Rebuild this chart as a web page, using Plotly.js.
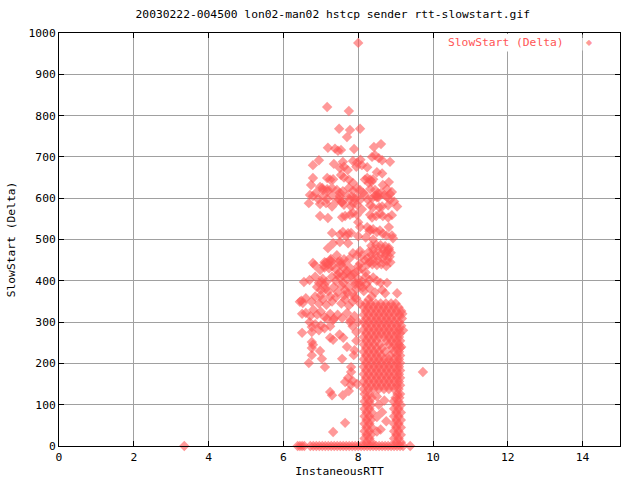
<!DOCTYPE html>
<html>
<head>
<meta charset="utf-8">
<script src="https://cdn.plot.ly/plotly-3.0.1.min.js"></script>
<style>html,body{margin:0;padding:0;background:#fff}#chart{width:640px;height:480px}</style>
</head>
<body>
<div id="chart"></div>
<script>
// ---- data (InstaneousRTT, SlowStart (Delta)) ----
const chartTitle = "20030222-004500 lon02-man02 hstcp sender rtt-slowstart.gif";
const xTitle = "InstaneousRTT";
const yTitle = "SlowStart (Delta)";
const seriesName = "SlowStart (Delta)";

// points lying on delta = 0
const floorRtt = [3.35, 6.38, 6.44, 6.5, 6.56, 6.72, 6.8, 6.88, 6.96, 7.04, 7.12, 7.2, 7.28, 7.36, 7.44,
  7.52, 7.6, 7.68, 7.76, 7.84, 7.92, 8.0, 8.08, 8.16, 8.24, 8.32, 8.4, 8.48, 8.56, 8.64, 8.72, 8.8,
  8.88, 8.96, 9.04, 9.12, 9.2, 9.39];

// dense block (rows of delta with rtt values)
const blockDelta = [345, 336, 327, 318, 309, 300, 291, 282, 273, 264, 255, 246, 237, 228, 219, 210,
  201, 192, 183, 174, 165, 156, 147, 138];
const blockRtt = [
  [8.2, 8.33, 8.47, 8.6, 8.74, 8.88, 9.0],
  [8.15, 8.27, 8.41, 8.54, 8.68, 8.81, 8.95, 9.08],
  [8.2, 8.34, 8.48, 8.62, 8.75, 8.89, 9.02, 9.15],
  [8.15, 8.28, 8.42, 8.55, 8.69, 8.82, 8.96, 9.1],
  [8.21, 8.35, 8.49, 8.62, 8.76, 8.89, 9.03, 9.17],
  [8.15, 8.28, 8.42, 8.55, 8.69, 8.82, 8.96, 9.1],
  [8.21, 8.35, 8.49, 8.62, 8.76, 8.89, 9.03, 9.15],
  [8.15, 8.28, 8.42, 8.55, 8.69, 8.82, 8.96, 9.09],
  [8.21, 8.35, 8.49, 8.62, 8.76, 8.89, 9.03, 9.12],
  [8.15, 8.28, 8.42, 8.55, 8.69, 8.82, 8.96, 9.09],
  [8.21, 8.35, 8.49, 8.76, 8.89, 9.03, 9.12],
  [8.15, 8.28, 8.42, 8.58, 8.82, 8.96, 9.09],
  [8.21, 8.35, 8.49, 8.64, 8.9, 9.03, 9.12],
  [8.15, 8.28, 8.42, 8.55, 8.72, 8.96, 9.09],
  [8.21, 8.35, 8.49, 8.62, 8.85, 9.03, 9.12],
  [8.15, 8.28, 8.42, 8.55, 8.69, 8.82, 8.96, 9.09],
  [8.21, 8.35, 8.49, 8.62, 8.76, 8.89, 9.03, 9.12],
  [8.15, 8.28, 8.42, 8.55, 8.69, 8.82, 8.96, 9.09],
  [8.21, 8.35, 8.49, 8.62, 8.76, 8.89, 9.03, 9.12],
  [8.15, 8.28, 8.42, 8.55, 8.69, 8.82, 8.96, 9.09],
  [8.21, 8.35, 8.49, 8.62, 8.76, 8.89, 9.03, 9.12],
  [8.15, 8.28, 8.42, 8.55, 8.69, 8.82, 8.96, 9.09],
  [8.21, 8.35, 8.49, 8.62, 8.76, 8.89, 9.03, 9.12],
  [8.15, 8.28, 8.42, 8.55, 8.69, 8.82, 8.96, 9.08]
];

// two columns beneath the block
const columnDelta = [126, 117, 108, 99, 90, 81, 72, 63, 54, 45, 36, 27, 18, 9];
const leftColumnRtt = [
  [8.17, 8.3], [8.22, 8.36], [8.17, 8.3], [8.22, 8.34], [8.17, 8.3], [8.22, 8.36], [8.17, 8.3],
  [8.22, 8.34], [8.17, 8.3], [8.22, 8.36], [8.17, 8.3], [8.22, 8.34], [8.17, 8.3], [8.22, 8.36]
];
const rightColumnRtt = [
  [9.05, 9.12], [9.0, 9.1], [8.95, 9.08], [9.02, 9.14], [8.96, 9.08], [9.02, 9.14], [8.96, 9.08],
  [9.02, 9.14], [8.96, 9.08], [9.02, 9.14], [8.96, 9.08], [9.02, 9.14], [8.96, 9.08], [9.02, 9.14]
];

// dense blob near delta 430-490
const blobRtt = [8.35, 8.48, 8.6, 8.72, 8.82, 8.4, 8.53, 8.66, 8.78, 8.87, 8.36, 8.47, 8.6, 8.72, 8.84,
  8.4, 8.52, 8.65, 8.77, 8.86, 8.38, 8.5, 8.62, 8.75, 8.3, 8.28, 8.25];
const blobDelta = [485, 487, 486, 484, 480, 475, 474, 476, 472, 468, 463, 462, 464, 461, 458,
  452, 450, 452, 448, 445, 440, 438, 440, 436, 445, 470, 455];

// scattered cloud
const cloudRtt = [
  8.0, 7.17, 7.75, 7.49, 7.78, 8.05, 7.70, 7.19, 7.38, 7.46, 7.54, 7.89, 8.42, 8.61, 6.95, 6.79, 7.35,
  7.59, 7.86, 7.97, 8.06, 8.1, 7.95, 8.37, 8.45, 8.55, 8.64, 8.85, 7.51, 7.62, 7.72, 8.24, 8.5, 8.64,
  6.79, 6.74, 7.17, 7.25, 7.33, 7.54, 7.62, 7.75, 7.86, 8.24, 8.32, 8.4, 8.28, 8.82, 8.66, 6.98, 7.06,
  7.17, 7.30, 7.43, 7.51, 7.59, 7.75, 7.86, 7.97, 8.05, 8.13, 8.32, 8.45, 8.53, 8.45, 8.5, 8.77, 8.85,
  8.9, 6.71, 6.79, 6.87, 6.93, 7.06, 7.17, 7.3, 7.43, 7.51, 7.70, 7.78, 7.9, 7.97, 8.05, 8.18, 8.26,
  8.37, 8.5, 8.77, 8.85, 8.96, 9.04, 6.68, 6.98, 7.14, 7.3, 7.57, 7.62, 7.81, 7.86, 7.97, 8.1, 8.32,
  8.4, 8.56, 8.64, 8.8, 6.98, 7.19, 7.57, 7.65, 7.78, 7.86, 7.97, 8.32, 8.37, 8.48, 8.58, 8.66, 8.8,
  8.9, 8.82, 8.0, 8.05, 8.24, 8.32, 8.4, 8.5, 8.58, 8.66, 8.75, 8.9, 7.3, 7.51, 7.59, 7.67, 7.73, 7.81,
  8.0, 8.93, 7.33, 7.51, 7.73, 7.19, 6.79, 6.84, 7.27, 7.43, 7.51, 7.54, 7.62, 7.78, 7.86, 7.97, 8.05,
  8.1, 8.18, 8.05, 8.0,
  6.98, 7.1, 7.2, 7.3, 7.1, 7.25, 7.4, 7.5, 7.6, 7.7, 7.8, 7.9, 8.0, 8.1, 8.2, 8.26, 7.46, 7.66,
  6.55, 6.7, 6.85, 6.95, 7.05, 7.15, 7.3, 7.4, 7.5, 7.6, 7.7, 7.8, 7.9, 8.0, 8.1, 8.2, 8.3, 8.4, 8.5,
  8.6, 8.77, 7.45, 7.85,
  6.9, 7.0, 7.1, 7.2, 7.35, 7.45, 7.55, 7.65, 7.75, 7.85, 7.95, 8.05, 8.15, 8.3, 8.45, 8.64, 8.72,
  9.04, 7.0, 7.25,
  6.6, 6.75, 6.85, 6.95, 7.05, 7.15, 7.3, 7.4, 7.55, 7.65, 7.75, 7.85, 7.95, 8.05, 6.44, 6.48, 6.52,
  6.5, 6.6, 6.72, 6.8, 6.9, 7.0, 7.1, 7.25, 7.35, 7.45, 7.57, 7.7, 7.8, 7.9, 8.0, 7.17, 7.33,
  6.7, 6.76, 6.85, 6.95, 7.0, 6.76, 6.5, 7.1, 7.85, 7.95, 7.78, 7.25,
  6.76, 6.79, 7.25, 7.33, 6.76, 6.98, 6.76, 7.03, 7.57, 6.68, 7.11, 7.81, 7.81, 7.9, 7.88, 7.73, 7.85,
  7.97, 7.8, 7.65, 7.25, 7.30, 7.75, 7.59, 7.65, 7.33, 9.73, 7.5, 7.6, 7.95, 7.7,
  8.5, 8.55, 8.64, 8.75, 8.6, 8.5, 8.7, 8.5, 9.18, 9.2, 9.15,
  7.08, 7.14, 7.22, 7.28, 7.6, 7.68, 7.92, 8.02, 8.12, 8.22, 7.02, 7.12, 7.62, 7.72, 7.9, 8.28, 8.36,
  7.04, 7.18, 7.48, 7.56, 7.82, 8.18, 8.36, 8.54, 8.7, 8.6, 8.74, 8.82, 8.3, 8.4, 8.2
];
const cloudDelta = [
  976, 821, 811, 768, 765, 768, 748, 722, 720, 715, 717, 719, 724, 731, 692, 680, 683,
  688, 690, 686, 693, 680, 676, 700, 704, 697, 692, 688, 673, 676, 668, 675, 663, 660,
  649, 632, 649, 645, 646, 656, 650, 645, 637, 649, 645, 646, 637, 639, 632, 627, 620,
  622, 625, 620, 613, 617, 625, 618, 624, 620, 613, 622, 620, 612, 606, 602, 622, 610,
  615, 608, 605, 613, 598, 605, 598, 607, 593, 605, 605, 596, 600, 602, 596, 608, 596,
  600, 606, 603, 596, 592, 580, 588, 586, 588, 580, 591, 584, 580, 588, 584, 573, 583,
  578, 578, 580, 583, 557, 552, 554, 557, 560, 564, 560, 560, 553, 557, 562, 557, 553,
  559, 530, 542, 530, 530, 524, 525, 518, 522, 514, 510, 510, 516, 512, 518, 508, 515, 516,
  508, 503, 491, 494, 491, 479, 443, 438, 453, 462, 448, 440, 452, 455, 467, 462, 472,
  462, 450, 442, 435,
  426, 432, 440, 436, 445, 450, 428, 420, 432, 424, 430, 418, 425, 430, 420, 440, 445, 442,
  397, 402, 410, 395, 405, 398, 410, 400, 408, 395, 404, 412, 398, 405, 398, 410, 402, 408, 400,
  395, 395, 415, 415,
  385, 378, 390, 375, 385, 372, 388, 378, 385, 370, 380, 388, 375, 382, 372, 378, 370,
  370, 365, 362,
  358, 350, 362, 345, 355, 342, 350, 360, 345, 355, 340, 350, 358, 345, 349, 352, 346,
  320, 322, 315, 330, 318, 325, 312, 320, 308, 318, 310, 322, 305, 315, 300, 308, 305,
  300, 288, 295, 280, 292, 276, 274, 285, 290, 276, 300, 290,
  252, 245, 262, 257, 237, 230, 220, 211, 211, 201, 191, 191, 179, 232, 220, 165, 158,
  150, 148, 155, 131, 123, 133, 123, 56, 34, 179, 270, 262, 255, 240,
  120, 100, 82, 60, 40, 35, 110, 70, 320, 280, 240,
  438, 444, 430, 447, 412, 418, 392, 395, 384, 392, 398, 380, 365, 370, 360, 355, 362,
  625, 617, 598, 590, 604, 645, 640, 602, 608, 612, 468, 476, 520, 500, 505
];

// ---- assemble the single series ----
const xs = [], ys = [];
floorRtt.forEach(v => { xs.push(v); ys.push(0); });
blockDelta.forEach((d, i) => blockRtt[i].forEach(v => { xs.push(v); ys.push(d); }));
columnDelta.forEach((d, i) => {
  leftColumnRtt[i].forEach(v => { xs.push(v); ys.push(d); });
  rightColumnRtt[i].forEach(v => { xs.push(v); ys.push(d); });
});
blobRtt.forEach((v, i) => { xs.push(v); ys.push(blobDelta[i]); });
cloudRtt.forEach((v, i) => { xs.push(v); ys.push(cloudDelta[i]); });

const red = '#ff5555';
const mono = 'DejaVu Sans Mono, Liberation Mono, monospace';
const fs = 11.3;

const trace = {
  type: 'scatter', mode: 'markers', name: seriesName,
  x: xs, y: ys, cliponaxis: false, showlegend: false,
  marker: { symbol: 'diamond', size: 8, color: 'rgba(255,85,85,0.6)', line: { width: 0 } }
};

const axisCommon = {
  showline: true, linecolor: '#000', linewidth: 1, mirror: 'allticks',
  ticks: 'inside', ticklen: 5, tickcolor: '#000',
  showgrid: true, gridcolor: '#a0a0a0', gridwidth: 1, zeroline: false,
  tickfont: { family: mono, size: fs, color: '#000' }
};

const layout = {
  width: 640, height: 480,
  margin: { l: 59, r: 20, t: 33, b: 34 },
  paper_bgcolor: '#fff', plot_bgcolor: '#fff',
  font: { family: mono, size: fs, color: '#000' },
  title: { text: chartTitle, font: { family: mono, size: fs, color: '#000' }, x: 0.52, xanchor: 'center', y: 0.97, yanchor: 'middle' },
  xaxis: Object.assign({}, axisCommon, {
    range: [0, 15], dtick: 2, tick0: 0,
    title: { text: xTitle, font: { family: mono, size: fs, color: '#000' }, standoff: 4 }
  }),
  yaxis: Object.assign({}, axisCommon, {
    range: [0, 1000], dtick: 100, tick0: 0,
    title: { text: yTitle, font: { family: mono, size: fs, color: '#000' }, standoff: 10 }
  }),
  annotations: [
    { xref: 'paper', yref: 'paper', x: 0.905, y: 0.978, xanchor: 'right', yanchor: 'middle',
      text: seriesName, showarrow: false, bgcolor: '#fff', borderpad: 2,
      font: { family: mono, size: fs, color: red } },
    { xref: 'paper', yref: 'paper', x: 0.945, y: 0.978, xanchor: 'center', yanchor: 'middle',
      text: '\u25C6', showarrow: false, bgcolor: '#fff', borderpad: 3,
      font: { family: 'DejaVu Sans', size: 8, color: 'rgba(255,85,85,0.6)' } }
  ]
};

Plotly.newPlot('chart', [trace], layout, { displayModeBar: false, staticPlot: true });
</script>
</body>
</html>
